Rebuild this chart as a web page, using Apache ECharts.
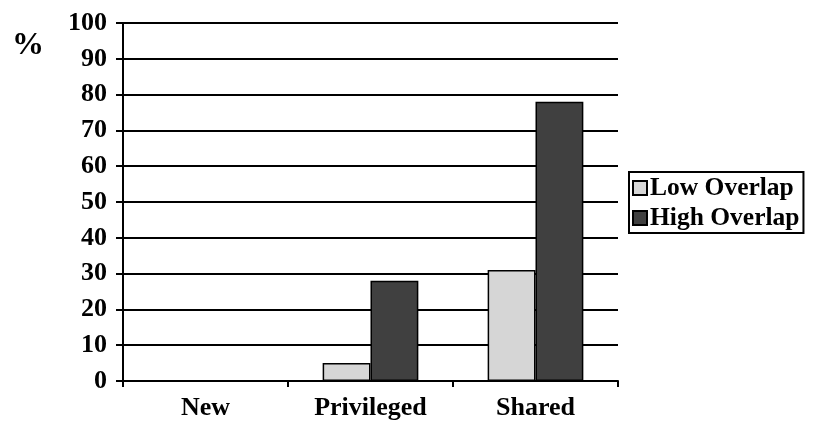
<!DOCTYPE html>
<html>
<head>
<meta charset="utf-8">
<script src="https://cdn.jsdelivr.net/npm/echarts@6/dist/echarts.min.js"></script>
<style>
  html, body { margin: 0; padding: 0; background: #fff; }
  #chart { width: 816px; height: 427px; }
</style>
</head>
<body>
<div id="chart"></div>
<script>
// 数据
var categories = ['New', 'Privileged', 'Shared'];
var lowOverlap = [0, 5, 31];
var highOverlap = [0, 28, 78];
var seriesNames = ['Low Overlap', 'High Overlap'];

var chart = echarts.init(document.getElementById('chart'));
var font = 'Liberation Serif';

var option = {
    backgroundColor: '#fff',
    animation: false,
    textStyle: { fontFamily: font, fontWeight: 'bold', color: '#000' },
    // 左上角的 %
    graphic: [{
        type: 'text',
        left: 12,
        top: 30,
        style: { text: '%', font: 'bold 32px "Liberation Serif"', fill: '#000' }
    }],
    grid: { left: 123, right: 198, top: 23, bottom: 46 },
    legend: {
        orient: 'vertical',
        left: 629,
        top: 172,
        data: seriesNames,
        borderColor: '#000',
        borderWidth: 2,
        padding: [3, 4, 2, 3],
        itemGap: 4,
        itemWidth: 14,
        itemHeight: 14,
        icon: 'rect',
        textStyle: { fontFamily: font, fontWeight: 'bold', fontSize: 25.5, color: '#000', padding: [0, 0, 0, -2] }
    },
    xAxis: {
        type: 'category',
        data: categories,
        axisLine: { lineStyle: { color: '#000', width: 2 } },
        axisTick: { show: true, length: 6, lineStyle: { color: '#000', width: 2 } },
        axisLabel: { fontFamily: font, fontWeight: 'bold', fontSize: 26, color: '#000', margin: 14 }
    },
    yAxis: {
        type: 'value',
        min: 0,
        max: 100,
        interval: 10,
        axisLine: { show: true, lineStyle: { color: '#000', width: 2 } },
        axisTick: { show: true, length: 7, lineStyle: { color: '#000', width: 2 } },
        axisLabel: { fontFamily: font, fontWeight: 'bold', fontSize: 26, color: '#000', margin: 16 },
        splitLine: { lineStyle: { color: '#000', width: 2 } }
    },
    series: [
        {
            name: seriesNames[0],
            type: 'bar',
            data: lowOverlap,
            barGap: '0%',
            barCategoryGap: '42%',
            itemStyle: { color: '#d6d6d6', borderColor: '#000', borderWidth: 1.5 }
        },
        {
            name: seriesNames[1],
            type: 'bar',
            data: highOverlap,
            itemStyle: { color: '#404040', borderColor: '#000', borderWidth: 1.5 }
        }
    ]
};

chart.setOption(option);
</script>
</body>
</html>
